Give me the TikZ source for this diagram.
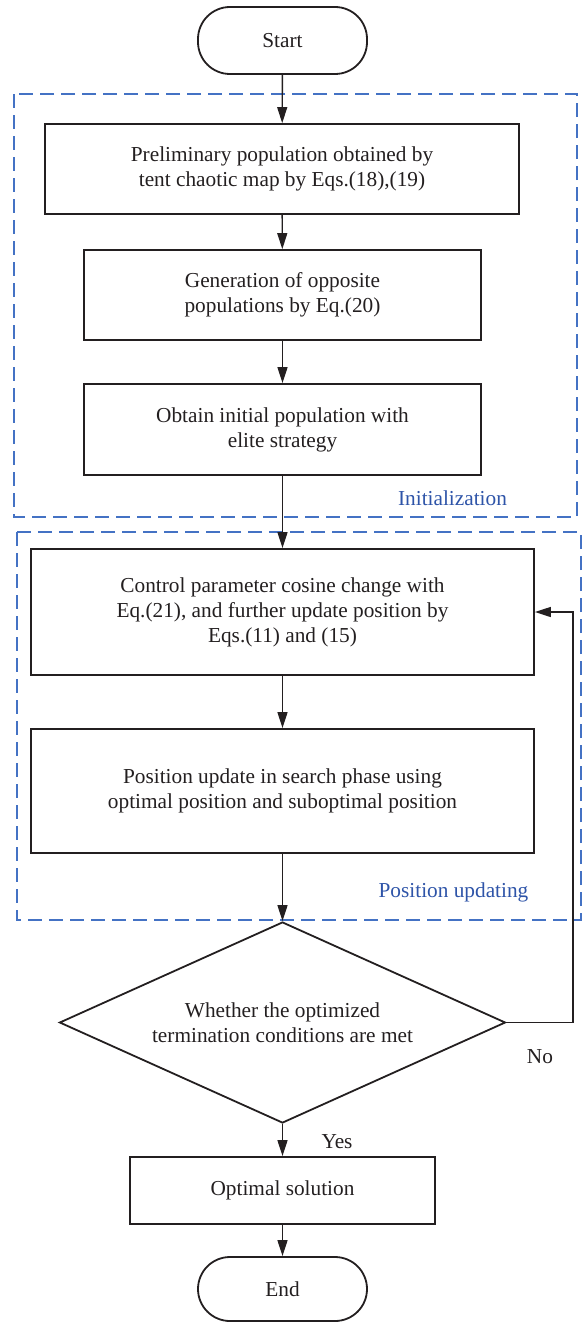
\documentclass[tikz,border=0pt]{standalone}
\usepackage{fontspec}
\setmainfont{Liberation Serif}
\usetikzlibrary{arrows.meta,shapes.geometric}
\definecolor{inkgray}{RGB}{35,31,32}
\definecolor{groupblue}{RGB}{68,114,196}
\definecolor{labelblue}{RGB}{46,84,168}

\begin{document}
\begin{tikzpicture}[x=1pt,y=-1pt,
    font=\fontsize{21.3}{25}\selectfont, text=inkgray,
    procbox/.style={draw=inkgray,line width=1.8pt,align=center,inner sep=0pt},
    terminal/.style={draw=inkgray,line width=1.8pt,rounded corners=32pt,minimum width=169pt},
    decision/.style={draw=inkgray,line width=1.8pt,diamond,aspect=2.22,align=center,inner sep=0pt},
    flow/.style={draw=inkgray,line width=1.4pt,-{Triangle[length=16pt,width=10pt]}},
    group/.style={draw=groupblue,line width=1.6pt,dash pattern=on 14pt off 7pt},
    grouplabel/.style={text=labelblue}]
    \useasboundingbox (0,0) rectangle (582,1322);
    %% phase frames
    \draw[group] (14,94) rectangle (577,517);
    \draw[group] (17,532) rectangle (581,920);
    \node[grouplabel] (initlabel) at (452.5,498) {Initialization};
    \node[grouplabel] (poslabel) at (453.5,892) {Position updating};
    %% nodes
    \node[terminal,minimum height=67pt] (start) at (282.5,40.5) {Start};
    \node[procbox,minimum width=474pt,minimum height=90pt] (tent) at (282,169)
        {Preliminary population obtained by\\tent chaotic map by Eqs.(18),(19)};
    \node[procbox,minimum width=397pt,minimum height=90pt] (opposite) at (282.5,295)
        {Generation of opposite\\populations by Eq.(20)};
    \node[procbox,minimum width=397pt,minimum height=91pt] (elite) at (282.5,429.5)
        {Obtain initial population with\\elite strategy};
    \node[procbox,minimum width=503pt,minimum height=126pt] (control) at (282.5,612)
        {Control parameter cosine change with\\Eq.(21), and further update position by\\Eqs.(11) and (15)};
    \node[procbox,minimum width=503pt,minimum height=124pt] (search) at (282.5,791)
        {Position update in search phase using\\optimal position and suboptimal position};
    \node[decision,minimum width=446pt,minimum height=201pt] (decide) at (282.5,1022.5)
        {Whether the optimized\\termination conditions are met};
    \node[procbox,minimum width=305pt,minimum height=67pt] (optimal) at (282.5,1190.5)
        {Optimal solution};
    \node[terminal,minimum height=64pt] (stop) at (282.5,1289) {End};
    %% branch labels
    \node (no) at (540,1057) {No};
    \node (yes) at (337,1142) {Yes};
    %% connectors
    \coordinate (loop) at (573,612);
    \draw[flow] (start) -- (tent);
    \draw[flow] (tent) -- (opposite);
    \draw[flow] (opposite) -- (elite);
    \draw[flow] (elite) -- (control);
    \draw[flow] (control) -- (search);
    \draw[flow] (search) -- (decide);
    \draw[flow] (decide) -- (optimal);
    \draw[flow] (optimal) -- (stop);
    \draw[flow] (decide.east) -| (loop) -- (control.east);
\end{tikzpicture}
\end{document}
